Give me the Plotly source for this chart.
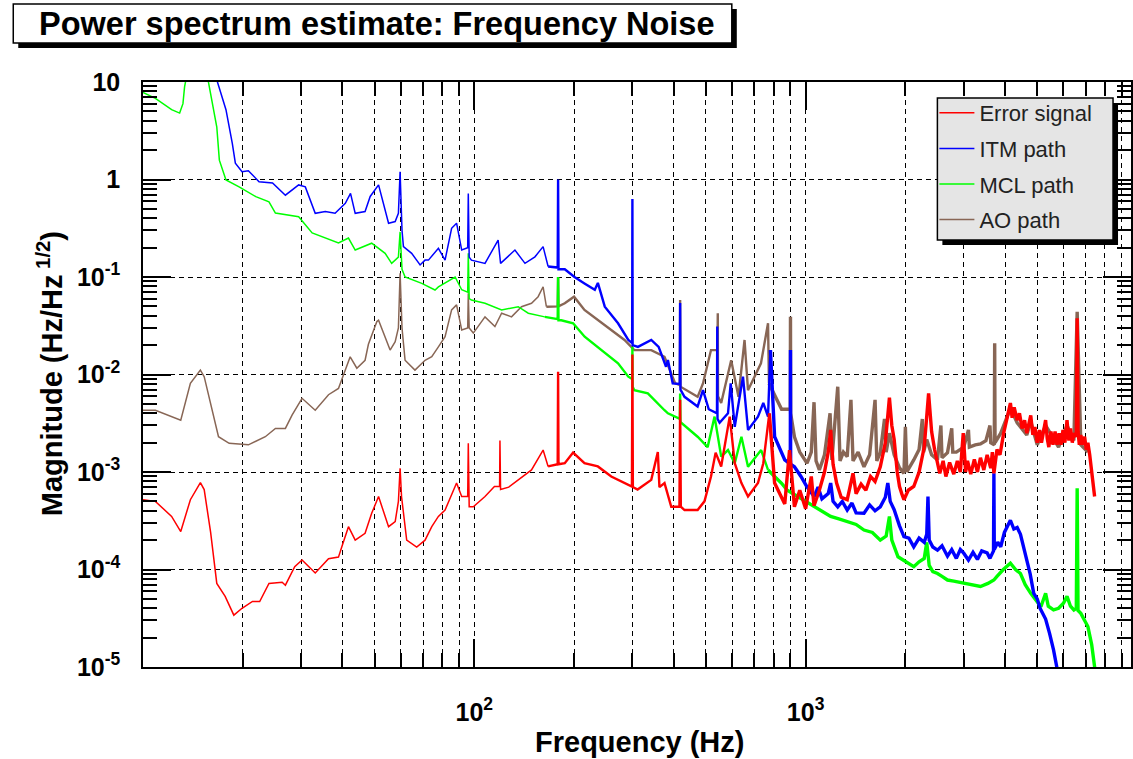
import plotly.graph_objects as go

# ---------------- data ----------------
# each list holds (frequency in Hz, magnitude in Hz/Hz^1/2)
err_pts = [
    (10, 5.2e-4), (10.9, 5.0e-4), (12.2, 3.5e-4), (13.0, 2.45e-4), (13.9, 5.2e-4), (14.9, 7.8e-4),
    (15.3, 6.6e-4), (16.0, 2.4e-4), (16.7, 7.2e-5), (17.7, 5.3e-5), (18.8, 3.4e-5), (19.9, 4.0e-5),
    (21.4, 4.7e-5), (22.5, 4.7e-5), (24.0, 7.2e-5), (26.3, 7.4e-5), (26.9, 6.9e-5), (28.7, 1.07e-4),
    (30.2, 1.25e-4), (33.1, 9.2e-5), (36.3, 1.29e-4), (38.9, 1.34e-4), (39.8, 1.7e-4), (41.7, 2.75e-4),
    (43.7, 2.0e-4), (46.8, 2.35e-4), (49.0, 3.77e-4), (51.4, 5.6e-4), (55.1, 2.75e-4), (57.7, 3.1e-4),
    (59.0, 5.0e-4), (59.7, 1.09e-3), (60.3, 5.6e-4), (62.5, 2.0e-4), (67.0, 1.7e-4), (71.0, 2.0e-4),
    (74.4, 2.75e-4), (77.9, 3.5e-4), (81.6, 4.07e-4), (85.4, 6.0e-4), (88.4, 7.7e-4), (91.6, 5.6e-4),
    (95.5, 5.6e-4), (95.9, 1.97e-3), (96.5, 4.4e-4), (99.3, 4.4e-4), (107.7, 5.6e-4), (115, 7.1e-4),
    (119.2, 7.1e-4), (119.5, 2.1e-3), (120, 6.6e-4), (127, 7.0e-4), (135.7, 8.3e-4), (148.8, 1.05e-3),
    (161.3, 1.68e-3), (167, 1.14e-3), (178.5, 1.2e-3), (179, 1.07e-2), (179.5, 1.2e-3), (187.5, 1.23e-3),
    (198.7, 1.58e-3), (215, 1.23e-3), (236, 1.14e-3), (259, 9.0e-4), (284, 7.7e-4), (299, 7.1e-4),
    (300, 1.6e-2), (301, 7.0e-4), (311, 6.6e-4), (342, 8.3e-4), (358, 1.6e-3), (362, 7.0e-4),
    (375, 7.7e-4), (393, 4.4e-4), (416, 4.4e-4), (418, 5.5e-3), (420, 4.4e-4), (431, 4.07e-4),
    (472, 4.07e-4), (495, 5.0e-4), (518, 9.0e-4), (535, 1.58e-3), (556, 1.14e-3), (590, 3.7e-3),
    (611, 1.23e-3), (640, 7.7e-4), (670, 5.6e-4), (718, 7.7e-4), (745, 1.23e-3), (777, 4.0e-3),
    (806, 7.7e-4), (865, 4.7e-4), (894, 1.68e-3), (925, 4.4e-4), (960, 6.5e-4), (1000, 4.2e-4),
    (1040, 9.0e-4), (1060, 4.5e-4), (1100, 6.5e-4), (1140, 1.0e-3), (1170, 1.6e-3), (1190, 2.7e-3),
    (1210, 1.2e-3), (1240, 7.7e-4), (1280, 5.5e-4), (1335, 5.2e-4), (1360, 7.0e-4), (1390, 9.7e-4),
    (1420, 6.0e-4), (1470, 7.5e-4), (1520, 6.5e-4), (1570, 9.0e-4), (1620, 8.0e-4), (1680, 1.13e-3),
    (1740, 2.0e-3), (1790, 5.8e-3), (1820, 3.0e-3), (1850, 2.15e-3), (1890, 1.0e-3), (1920, 7.1e-4),
    (1950, 6.0e-4), (1980, 5.2e-4), (2040, 6.5e-4), (2120, 7.1e-4), (2200, 1.0e-3), (2280, 1.8e-3),
    (2350, 6.4e-3), (2400, 2.6e-3), (2450, 1.7e-3), (2540, 9.7e-4), (2600, 1.3e-3), (2650, 9.0e-4),
    (2720, 1.25e-3), (2800, 9.5e-4), (2870, 1.3e-3), (2930, 1.0e-3), (2990, 2.5e-3), (3040, 1.0e-3),
    (3080, 1.3e-3), (3150, 9.5e-4), (3230, 1.35e-3), (3300, 1.0e-3), (3370, 1.4e-3), (3450, 1.05e-3),
    (3530, 1.5e-3), (3620, 1.1e-3), (3660, 1.6e-3), (3700, 9.7e-4), (3780, 1.7e-3), (3860, 1.5e-3),
    (3960, 2.5e-3), (4050, 3.5e-3), (4150, 5.1e-3), (4200, 3.6e-3), (4260, 4.6e-3), (4350, 3.4e-3),
    (4420, 4.0e-3), (4500, 2.8e-3), (4580, 3.4e-3), (4650, 2.5e-3), (4720, 3.2e-3), (4780, 3.8e-3),
    (4850, 2.4e-3), (4920, 2.9e-3), (5000, 2.0e-3), (5080, 2.7e-3), (5150, 2.0e-3), (5230, 2.8e-3),
    (5300, 3.4e-3), (5360, 2.2e-3), (5420, 1.8e-3), (5500, 2.6e-3), (5580, 1.9e-3), (5660, 2.6e-3),
    (5740, 1.9e-3), (5820, 2.5e-3), (5900, 1.9e-3), (5980, 2.7e-3), (6060, 2.0e-3), (6150, 3.4e-3),
    (6230, 2.1e-3), (6300, 2.8e-3), (6380, 2.0e-3), (6450, 2.5e-3), (6560, 2.3e-3), (6600, 3.77e-2),
    (6640, 2.6e-3), (6700, 1.9e-3), (6770, 2.4e-3), (6850, 1.9e-3), (6950, 2.3e-3), (7030, 1.7e-3),
    (7110, 2.0e-3), (7200, 1.5e-3), (7280, 1.05e-3), (7360, 7.5e-4), (7450, 5.6e-4),
]

itm_pts = [
    (10, 60), (14, 30), (16.5, 12), (17.8, 5.2), (18.6, 2.35), (19.0, 1.47), (19.9, 1.2), (20.8, 1.23),
    (22.4, 0.95), (24.6, 0.92), (26.9, 0.69), (29.5, 0.88), (30.9, 0.84), (33.1, 0.45), (35.5, 0.47),
    (38.0, 0.45), (40.8, 0.57), (42.3, 0.72), (43.7, 0.45), (46.8, 0.47), (48.5, 0.67), (51.4, 0.88),
    (55.1, 0.356), (57.7, 0.37), (59.0, 0.45), (59.7, 1.2), (60.5, 0.3), (61.1, 0.205), (64.7, 0.175),
    (68.6, 0.133), (71.0, 0.149), (72.7, 0.149), (77.9, 0.197), (81.6, 0.149), (85.4, 0.316),
    (88.4, 0.356), (91.6, 0.189), (95.5, 0.2), (95.9, 0.72), (96.5, 0.16), (98, 0.149), (107.7, 0.138),
    (118, 0.239), (120, 0.138), (132.6, 0.189), (142.2, 0.138), (152.4, 0.161), (161.3, 0.205),
    (167, 0.128), (178.5, 0.125), (179, 1.0), (179.5, 0.12), (187.5, 0.12), (200.6, 0.10), (215, 0.086),
    (231, 0.074), (236, 0.087), (247.6, 0.0496), (271.5, 0.0335), (291.6, 0.0226), (299.5, 0.021),
    (300, 0.63), (300.5, 0.02), (311.8, 0.0192), (342, 0.0226), (360, 0.0192), (379, 0.012),
    (384, 0.0141), (397, 0.0081), (417, 0.008), (418, 0.054), (419, 0.007), (431, 0.0059),
    (472, 0.0047), (490, 0.0069), (510, 0.0044), (540, 0.004), (541, 0.031), (542, 0.0035),
    (550, 0.0032), (583, 0.0040), (594, 0.0081), (611, 0.0029), (647, 0.0095), (670, 0.0027),
    (718, 0.0037), (745, 0.0051), (770, 0.0037), (783, 0.0178), (806, 0.0023), (865, 0.00133),
    (899, 0.0012), (900, 0.0178), (901, 0.0012), (925, 1.13e-3), (968, 9.0e-4), (1010, 7.0e-4),
    (1040, 6.0e-4), (1061, 5.6e-4), (1090, 7.0e-4), (1120, 5.3e-4), (1170, 6.0e-4), (1190, 7.7e-4),
    (1210, 5.0e-4), (1250, 4.4e-4), (1290, 5.0e-4), (1335, 4.07e-4), (1380, 4.8e-4), (1420, 3.8e-4),
    (1500, 3.77e-4), (1560, 4.6e-4), (1620, 4.0e-4), (1680, 4.4e-4), (1740, 5.5e-4), (1770, 7.7e-4),
    (1800, 5.0e-4), (1850, 4.1e-4), (1920, 2.8e-4), (1980, 2.17e-4), (2050, 2.1e-4), (2120, 1.71e-4),
    (2200, 2.1e-4), (2280, 1.9e-4), (2320, 2.3e-4), (2340, 5.6e-4), (2360, 2.0e-4), (2420, 1.7e-4),
    (2500, 1.58e-4), (2580, 1.75e-4), (2680, 1.37e-4), (2760, 1.6e-4), (2850, 1.3e-4), (2930, 1.6e-4),
    (3000, 1.47e-4), (3100, 1.25e-4), (3200, 1.5e-4), (3300, 1.27e-4), (3400, 1.55e-4), (3530, 1.48e-4),
    (3600, 1.3e-4), (3690, 1.55e-4), (3700, 9.7e-4), (3710, 1.6e-4), (3800, 1.9e-4), (3880, 1.71e-4),
    (3980, 2.4e-4), (4080, 2.8e-4), (4150, 3.2e-4), (4250, 2.6e-4), (4350, 2.7e-4), (4450, 2.3e-4),
    (4550, 1.7e-4), (4650, 1.27e-4), (4760, 9.0e-5), (4880, 5.7e-5), (5000, 5.0e-5), (5100, 4.0e-5),
    (5200, 3.5e-5), (5300, 3.1e-5), (5450, 2.2e-5), (5600, 1.5e-5), (5800, 8e-6),
]

mcl_pts = [
    (10, 7.8), (10.9, 6.8), (12.2, 5.2), (12.9, 4.8), (13.2, 6.0), (13.35, 8.9), (14.5, 40), (15.6, 12),
    (16.7, 3.45), (17.0, 1.58), (17.8, 0.99), (19.5, 0.84), (21.9, 0.667), (24.0, 0.59), (25.1, 0.453),
    (29.5, 0.415), (32.4, 0.283), (38.9, 0.223), (41.7, 0.251), (43.7, 0.189), (49.0, 0.222),
    (53.8, 0.175), (56.3, 0.138), (59.0, 0.16), (59.7, 0.29), (60.5, 0.12), (61.8, 0.10), (69.4, 0.086),
    (76.1, 0.0736), (77.9, 0.079), (87.5, 0.10), (91.6, 0.074), (95.5, 0.07), (95.9, 0.175), (96.5, 0.06),
    (98, 0.058), (107.7, 0.0537), (120.9, 0.046), (135.7, 0.0496), (145.5, 0.0425), (163.2, 0.039),
    (178.5, 0.037), (179, 0.1), (179.5, 0.036), (183, 0.036), (198.7, 0.0335), (215.3, 0.0244),
    (242, 0.0178), (271.5, 0.013), (291.6, 0.0095), (299.5, 0.009), (300, 0.0192), (300.5, 0.0075),
    (304, 0.0069), (334, 0.0064), (375, 0.0043), (384, 0.0040), (417, 0.0035), (418, 0.0064),
    (419, 0.0033), (421, 0.0032), (472, 0.0023), (506, 0.0018), (531, 0.0037), (556, 0.00144),
    (583, 0.00168), (611, 0.00123), (640, 0.0023), (670, 0.00113), (734, 0.00168), (770, 0.00105),
    (846, 7.66e-4), (880, 6.5e-4), (945, 5.6e-4), (1000, 5.0e-4), (1061, 4.4e-4), (1120, 4.0e-4),
    (1190, 3.5e-4), (1260, 3.3e-4), (1335, 3.1e-4), (1420, 2.9e-4), (1500, 2.54e-4), (1590, 2.4e-4),
    (1680, 2.0e-4), (1750, 2.2e-4), (1790, 3.5e-4), (1820, 2.0e-4), (1900, 1.35e-4), (2000, 1.2e-4),
    (2120, 1.07e-4), (2200, 1.2e-4), (2280, 1.3e-4), (2320, 1.9e-4), (2360, 1.1e-4), (2420, 9.5e-5),
    (2500, 9.1e-5), (2580, 8.5e-5), (2680, 7.8e-5), (2800, 7.6e-5), (3000, 7.2e-5), (3150, 7.0e-5),
    (3370, 6.7e-5), (3550, 7.2e-5), (3700, 7.8e-5), (3780, 8.5e-5), (3950, 1.0e-4), (4150, 1.16e-4),
    (4300, 1.0e-4), (4450, 9.1e-5), (4600, 7.0e-5), (4780, 5.7e-5), (4950, 4.8e-5), (5130, 4.15e-5),
    (5300, 5.7e-5), (5400, 4.2e-5), (5600, 3.85e-5), (5800, 4.0e-5), (6000, 4.5e-5), (6150, 5.3e-5),
    (6300, 4.2e-5), (6450, 3.85e-5), (6560, 4.0e-5), (6600, 6.8e-4), (6640, 3.8e-5), (6770, 3.55e-5),
    (6950, 3.0e-5), (7110, 2.6e-5), (7300, 1.7e-5), (7450, 1.0e-5), (7600, 6e-6),
]

ao_pts = [
    (10, 0.0043), (10.9, 0.0043), (13.0, 0.0034), (13.9, 0.0081), (14.9, 0.0111), (15.3, 0.0095),
    (16.9, 0.0023), (18.2, 0.00197), (20.8, 0.0019), (23.4, 0.0023), (25.1, 0.0028), (26.9, 0.0028),
    (28.2, 0.00385), (30.2, 0.0057), (33.1, 0.0043), (36.3, 0.0062), (38.9, 0.0072), (40.7, 0.0111),
    (42.2, 0.0152), (44.2, 0.0116), (46.8, 0.014), (47.9, 0.0204), (50.8, 0.0349), (51.4, 0.036),
    (55.7, 0.0178), (57.7, 0.0217), (59.0, 0.03), (59.7, 0.109), (60.5, 0.03), (61.8, 0.014),
    (66.2, 0.0111), (71.0, 0.014), (74.4, 0.0152), (77.9, 0.0192), (81.6, 0.0244), (85.4, 0.046),
    (88.4, 0.0518), (91.6, 0.0286), (95.5, 0.03), (95.9, 0.068), (96.5, 0.03), (99.3, 0.0266),
    (107.7, 0.039), (115.4, 0.031), (120.9, 0.0425), (129.5, 0.039), (138.8, 0.0496), (148.8, 0.0537),
    (155.8, 0.0628), (161.3, 0.0794), (165, 0.0496), (178.5, 0.05), (179, 0.1), (179.5, 0.05),
    (187.5, 0.0537), (200, 0.0628), (215, 0.046), (236, 0.036), (259, 0.0286), (284, 0.0226),
    (304, 0.0178), (342, 0.0178), (375, 0.0152), (404, 0.0081), (417, 0.0078), (418, 0.0582),
    (419, 0.0075), (472, 0.0059), (490, 0.0081), (518, 0.0178), (542, 0.0178), (543, 0.0425),
    (544, 0.006), (556, 0.0051), (596, 0.014), (627, 0.0059), (654, 0.0226), (670, 0.0069),
    (733, 0.013), (770, 0.0335), (775, 0.0081), (846, 0.0044), (899, 0.0044), (900, 0.039),
    (901, 0.004), (925, 0.0023), (960, 0.0016), (1010, 0.00123), (1040, 0.0016), (1060, 0.0052),
    (1075, 0.0013), (1100, 0.00105), (1140, 0.0015), (1185, 0.0040), (1200, 0.00133), (1250, 0.0075),
    (1270, 0.0013), (1300, 0.0016), (1335, 0.00144), (1370, 0.0055), (1390, 0.0013), (1440, 0.0016),
    (1500, 0.00113), (1560, 0.0015), (1620, 0.0055), (1640, 0.0013), (1680, 0.00158), (1730, 0.0035),
    (1750, 0.0016), (1790, 0.0025), (1850, 0.0015), (1920, 0.0011), (1980, 9.7e-4), (2000, 0.0029),
    (2020, 0.001), (2120, 0.00133), (2200, 0.0017), (2250, 0.0035), (2270, 0.0016), (2320, 0.00215),
    (2400, 0.0015), (2500, 0.00133), (2560, 0.003), (2580, 0.0014), (2680, 0.00158), (2760, 0.0028),
    (2780, 0.0016), (2850, 0.0016), (3000, 0.0018), (3100, 0.0027), (3120, 0.0018), (3250, 0.0019),
    (3370, 0.00194), (3500, 0.0021), (3600, 0.0030), (3620, 0.002), (3710, 0.0019), (3720, 0.0209),
    (3730, 0.002), (3880, 0.0025), (4150, 0.0045), (4350, 0.0032), (4650, 0.0024), (4780, 0.0033),
    (5000, 0.0019), (5300, 0.003), (5800, 0.0018), (6150, 0.003), (6450, 0.0021), (6600, 0.044),
    (6770, 0.0019), (7110, 0.0016),
]

series_names = ["Error signal", "ITM path", "MCL path", "AO path"]
series_colors = ["#ff0000", "#0000ff", "#00ff00", "#886655"]

x_tick_vals = [100, 1000]
x_tick_text = ["<b>10<sup>2</sup></b>", "<b>10<sup>3</sup></b>"]
y_tick_vals = [10, 1, 0.1, 0.01, 0.001, 1e-4, 1e-5]
y_tick_text = ["<b>10</b>", "<b>1</b>", "<b>10<sup>-1</sup></b>", "<b>10<sup>-2</sup></b>",
               "<b>10<sup>-3</sup></b>", "<b>10<sup>-4</sup></b>", "<b>10<sup>-5</sup></b>"]

FONT = "Liberation Sans, Arial, Helvetica, sans-serif"

# style: the dense spectra look thicker at high frequency (more bins per pixel)
band_edges = [170, 800]          # Hz where the drawn band thickens
band_widths = [1.5, 2.4, 3.4]    # px

# ---------------- figure ----------------
fig = go.Figure()
data = {
    "Error signal": err_pts,
    "ITM path": itm_pts,
    "MCL path": mcl_pts,
    "AO path": ao_pts,
}
draw_order = ["AO path", "MCL path", "ITM path", "Error signal"]
for name in draw_order:
    i = series_names.index(name)
    fx = [p[0] for p in data[name]]
    fy = [p[1] for p in data[name]]
    lims = [0] + band_edges + [1e9]
    for s in range(3):
        lo, hi = lims[s], lims[s + 1]
        idx = [k for k in range(len(fx)) if lo <= fx[k] <= hi]
        if idx and idx[0] > 0:
            idx = [idx[0] - 1] + idx
        if len(idx) < 2:
            continue
        fig.add_trace(go.Scatter(
            x=[fx[k] for k in idx], y=[fy[k] for k in idx], mode="lines", name=name,
            line=dict(color=series_colors[i], width=band_widths[s]),
            legendrank=i + 1, legendgroup=name, showlegend=(s == 0),
        ))

x_minor = [m * 10 ** k for k in (1, 2, 3) for m in range(2, 10)]
y_minor = [m * 10.0 ** k for k in range(-5, 1) for m in range(2, 10)]

fig.update_layout(
    width=1133, height=759,
    margin=dict(l=143, r=0, t=82, b=92),
    paper_bgcolor="white", plot_bgcolor="white",
    font=dict(family=FONT, color="black"),
    showlegend=True,
    legend=dict(
        x=(936 - 143) / 990, y=(667 - 92) / 585, xanchor="left", yanchor="top",
        bgcolor="rgba(0,0,0,0)", borderwidth=0,
        font=dict(family=FONT, size=22, color="#222222"),
        traceorder="grouped", tracegroupgap=4, itemwidth=35,
    ),
    xaxis=dict(
        type="log", range=[1, 3.982],
        tickmode="array", tickvals=x_tick_vals, ticktext=x_tick_text,
        tickfont=dict(family=FONT, size=25, color="black"),
        ticks="inside", ticklen=28, tickwidth=1.5, tickcolor="black",
        showline=True, linecolor="black", linewidth=1.5, mirror="ticks",
        showgrid=True, gridcolor="black", gridwidth=1.4, griddash="5px,4px",
        minor=dict(tickmode="array", tickvals=x_minor, ticks="inside", ticklen=14,
                   tickwidth=1.5, tickcolor="black", showgrid=True, gridcolor="black",
                   gridwidth=1.4, griddash="5px,4px"),
        ticklabelstandoff=22,
        zeroline=False,
    ),
    yaxis=dict(
        type="log", range=[-5, 1],
        tickmode="array", tickvals=y_tick_vals, ticktext=y_tick_text,
        tickfont=dict(family=FONT, size=25, color="black"),
        ticks="inside", ticklen=28, tickwidth=1.5, tickcolor="black",
        showline=True, linecolor="black", linewidth=1.5, mirror="ticks",
        showgrid=True, gridcolor="black", gridwidth=1.4, griddash="5px,4px",
        minor=dict(tickmode="array", tickvals=y_minor, ticks="inside", ticklen=14,
                   tickwidth=1.5, tickcolor="black", showgrid=False),
        ticklabelstandoff=16,
        zeroline=False,
    ),
)

def px_x(p):
    return (p - 143) / 990.0

def px_y(p):
    return (667 - p) / 585.0

shapes = [
    # title box shadow + box
    dict(type="rect", xref="paper", yref="paper", x0=px_x(18), x1=px_x(738), y0=px_y(48), y1=px_y(9),
         fillcolor="black", line=dict(width=0), layer="above"),
    dict(type="rect", xref="paper", yref="paper", x0=px_x(13), x1=px_x(733), y0=px_y(43), y1=px_y(4),
         fillcolor="white", line=dict(color="black", width=1.5), layer="above"),
    # legend box shadow + box
    dict(type="rect", xref="paper", yref="paper", x0=px_x(944), x1=px_x(1120), y0=px_y(245), y1=px_y(103),
         fillcolor="black", line=dict(width=0), layer="above"),
    dict(type="rect", xref="paper", yref="paper", x0=px_x(939), x1=px_x(1115), y0=px_y(240), y1=px_y(98),
         fillcolor="#e5e5e5", line=dict(color="black", width=1.5), layer="above"),
]
fig.update_layout(shapes=shapes)

fig.add_annotation(x=px_x(37), y=px_y(24), xref="paper", yref="paper", xanchor="left", yanchor="middle",
                   text="<b>Power spectrum estimate: Frequency Noise</b>", showarrow=False,
                   font=dict(family=FONT, size=32.5, color="black"))
fig.add_annotation(x=px_x(641), y=px_y(742), xref="paper", yref="paper", xanchor="center", yanchor="middle",
                   text="<b>Frequency (Hz)</b>", showarrow=False,
                   font=dict(family=FONT, size=29, color="black"))
fig.add_annotation(x=px_x(50), y=px_y(374), xref="paper", yref="paper", xanchor="center", yanchor="middle",
                   text="<b>Magnitude (Hz/Hz<sup> 1/2</sup>)</b>", textangle=-90, showarrow=False,
                   font=dict(family=FONT, size=29, color="black"))

fig.write_html("out.html")
